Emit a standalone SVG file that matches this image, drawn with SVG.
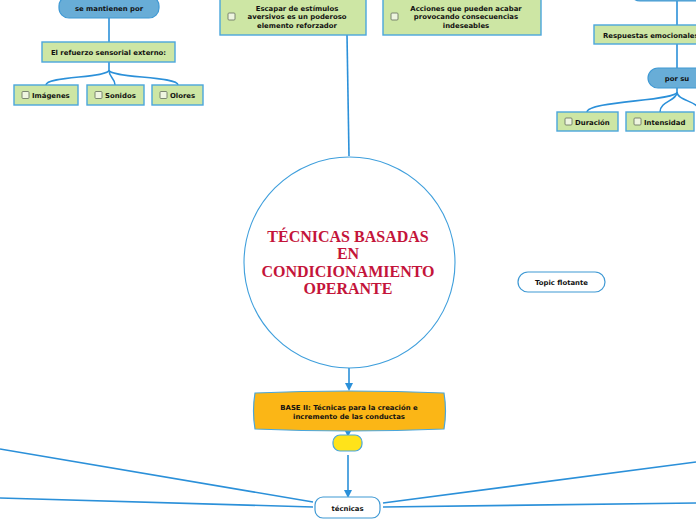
<svg xmlns="http://www.w3.org/2000/svg" width="696" height="520" viewBox="0 0 696 520">
<style>
.c{fill:none;stroke:#2b90d9;stroke-width:1.6}
.g{fill:#cde6a4;stroke:#4aa6dc;stroke-width:1.4}
.p{fill:#68add7;stroke:#3f99d4;stroke-width:1.2}
.w{fill:#fff;stroke:#3f99d4;stroke-width:1.2}
.t{font-family:"DejaVu Sans",Verdana,sans-serif;font-weight:bold;font-size:6.9px;fill:#111}
.m{text-anchor:middle}
.cb{fill:#eef5e0;stroke:#6f7a68;stroke-width:0.9}
.h{font-family:"Liberation Serif","Times New Roman",serif;font-weight:bold;font-size:16px;fill:#c4143a;text-anchor:middle}
</style>
<defs>
<marker id="a" markerWidth="8" markerHeight="8" refX="4" refY="4" orient="auto" markerUnits="userSpaceOnUse"><path d="M0,0 L8,4 L0,8 z" fill="#2b90d9"/></marker>
</defs>
<g id="connectors">
<path class="c" d="M109,18 V42"/>
<path class="c" d="M109,62 V70 C109,78 46,76 46,85"/>
<path class="c" d="M109,70 C109,78 115,78 115,85"/>
<path class="c" d="M109,70 C109,78 178,76 178,85"/>
<path class="c" d="M347,35 L349,156"/>
<path class="c" d="M677,1 V25"/>
<path class="c" d="M677,44 V68"/>
<path class="c" d="M677,88 V92 C677,101 587,101 587,112"/>
<path class="c" d="M677,92 C677,101 660,101 660,112"/>
<path class="c" d="M677,92 C677,101 700,101 700,112"/>
<path class="c" d="M349,368 V387" marker-end="url(#a)"/>
<path class="c" d="M348,430 V433" marker-end="url(#a)"/>
<path class="c" d="M348,455 V494" marker-end="url(#a)"/>
<path class="c" d="M0,449 L313,502"/>
<path class="c" d="M0,498 L313,507"/>
<path class="c" d="M383,503 L696,462"/>
<path class="c" d="M383,507 L696,503"/>
</g>
<g id="n-mantienen"><rect class="p" x="59" y="-4" width="100" height="22" rx="10"/><text class="t m" x="109" y="11">se mantienen por</text></g>
<g id="n-refuerzo"><rect class="g" x="42" y="42" width="133" height="20"/><text class="t m" x="108.5" y="54.5">El refuerzo sensorial externo:</text></g>
<g id="n-imagenes"><rect class="g" x="14" y="85" width="64" height="20"/><rect class="cb" x="22" y="91.5" width="7" height="7" rx="1"/><text class="t" x="32" y="97.5">Imágenes</text></g>
<g id="n-sonidos"><rect class="g" x="87" y="85" width="57" height="20"/><rect class="cb" x="95" y="91.5" width="7" height="7" rx="1"/><text class="t" x="105" y="97.5">Sonidos</text></g>
<g id="n-olores"><rect class="g" x="152" y="85" width="51" height="20"/><rect class="cb" x="160" y="91.5" width="7" height="7" rx="1"/><text class="t" x="170" y="97.5">Olores</text></g>
<g id="n-escapar"><rect class="g" x="220" y="-3" width="146" height="38"/><rect class="cb" x="228" y="13" width="7" height="7" rx="1"/><text class="t m" x="297" y="10.5">Escapar de estímulos</text><text class="t m" x="297" y="19">aversivos es un poderoso</text><text class="t m" x="297" y="27.5">elemento reforzador</text></g>
<g id="n-acciones"><rect class="g" x="383" y="-3" width="158" height="38"/><rect class="cb" x="391" y="13" width="7" height="7" rx="1"/><text class="t m" x="466" y="10.5">Acciones que pueden acabar</text><text class="t m" x="466" y="19">provocando consecuencias</text><text class="t m" x="466" y="27.5">indeseables</text></g>
<g id="n-toppill"><rect class="p" x="630" y="-20" width="90" height="21" rx="10"/></g>
<g id="n-respuestas"><rect class="g" x="594" y="25" width="110" height="19"/><text class="t" x="603" y="37.5">Respuestas emocionales</text></g>
<g id="n-porsu"><rect class="p" x="648" y="68" width="70" height="20" rx="10"/><text class="t m" x="677" y="80.5">por su</text></g>
<g id="n-duracion"><rect class="g" x="557" y="112" width="61" height="19"/><rect class="cb" x="565" y="118" width="7" height="7" rx="1"/><text class="t" x="575" y="124.5">Duración</text></g>
<g id="n-intensidad"><rect class="g" x="626" y="112" width="68" height="19"/><rect class="cb" x="634" y="118" width="7" height="7" rx="1"/><text class="t" x="644" y="124.5">Intensidad</text></g>
<g id="n-main"><circle cx="349.5" cy="262.5" r="105.5" fill="#fff" stroke="#3f9fdc" stroke-width="1.1"/><text class="h" x="348" y="242">TÉCNICAS BASADAS</text><text class="h" x="348" y="259">EN</text><text class="h" x="348" y="277">CONDICIONAMIENTO</text><text class="h" x="348" y="294">OPERANTE</text></g>
<g id="n-flotante"><rect class="w" x="518" y="272" width="87" height="20" rx="10"/><text class="t m" x="561.5" y="285">Topic flotante</text></g>
<g id="n-base"><path d="M255,393 Q349,389 444,393 Q447,411 444,429 Q349,433 255,429 Q252,411 255,393 z" fill="#fbb616" stroke="#4aa6dc" stroke-width="1.2"/><text class="t m" x="349" y="409.5">BASE II: Técnicas para la creación e</text><text class="t m" x="349" y="418.5">incremento de las conductas</text></g>
<g id="n-yellow"><rect x="333" y="435" width="29" height="16" rx="7" fill="#ffe31a" stroke="#4aa6dc" stroke-width="1.2"/></g>
<g id="n-tecnicas"><rect class="w" x="315" y="497" width="65" height="21" rx="8"/><text class="t m" x="347.5" y="510.5">técnicas</text></g>
</svg>
